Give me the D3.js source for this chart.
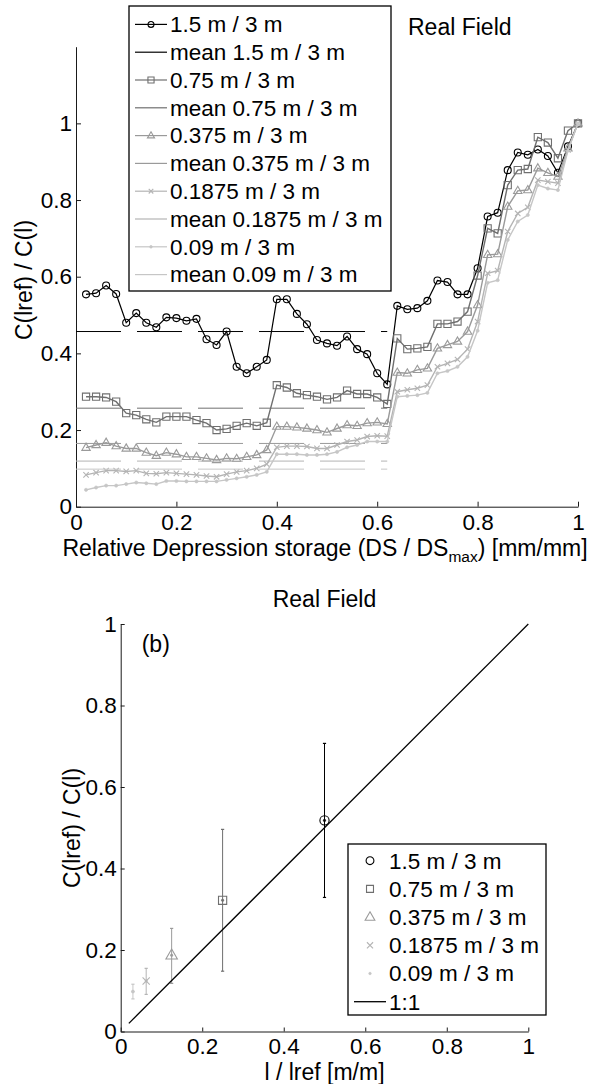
<!DOCTYPE html>
<html>
<head>
<meta charset="utf-8">
<script src="https://cdn.jsdelivr.net/npm/d3@7"></script>
<style>
  body { margin: 0; background: #fff; }
  svg { display: block; font-family: "Liberation Sans", Arial, sans-serif; }
</style>
</head>
<body>
<svg id="chart" width="590" height="1084"></svg>
<script>
// ---- data ----
var ds = [0.02,0.04,0.06,0.08,0.10,0.12,0.14,0.16,0.18,0.20,
          0.22,0.24,0.26,0.28,0.30,0.32,0.34,0.36,0.38,0.40,
          0.42,0.44,0.46,0.48,0.50,0.52,0.54,0.56,0.58,0.60,
          0.62,0.64,0.66,0.68,0.70,0.72,0.74,0.76,0.78,0.80,
          0.82,0.84,0.86,0.88,0.90,0.92,0.94,0.96,0.98,1.00];

var c150 = [0.554,0.557,0.577,0.555,0.480,0.505,0.480,0.468,0.494,0.492,
            0.485,0.490,0.437,0.422,0.457,0.365,0.348,0.365,0.383,0.541,
            0.541,0.503,0.476,0.435,0.426,0.420,0.444,0.411,0.398,0.348,
            0.319,0.524,0.515,0.518,0.537,0.590,0.586,0.554,0.554,0.622,
            0.757,0.767,0.878,0.924,0.918,0.932,0.915,0.871,0.940,1.000];
var c075 = [0.287,0.287,0.285,0.274,0.244,0.239,0.228,0.220,0.235,0.235,
            0.235,0.226,0.218,0.200,0.203,0.211,0.218,0.211,0.219,0.317,
            0.311,0.296,0.291,0.287,0.280,0.285,0.303,0.294,0.294,0.285,
            0.268,0.439,0.411,0.413,0.417,0.477,0.477,0.483,0.509,0.603,
            0.726,0.713,0.839,0.878,0.881,0.964,0.950,0.909,0.981,1.000];
var c0375 = [0.154,0.161,0.167,0.158,0.152,0.152,0.141,0.133,0.141,0.137,
             0.130,0.130,0.126,0.122,0.126,0.125,0.130,0.135,0.148,0.209,
             0.209,0.207,0.204,0.200,0.194,0.204,0.213,0.211,0.218,0.220,
             0.216,0.350,0.348,0.357,0.361,0.413,0.422,0.431,0.457,0.526,
             0.657,0.659,0.783,0.824,0.826,0.883,0.871,0.861,0.935,1.000];
var c01875 = [0.083,0.089,0.094,0.094,0.092,0.094,0.087,0.086,0.089,0.087,
              0.085,0.083,0.080,0.078,0.085,0.091,0.094,0.100,0.111,0.155,
              0.158,0.158,0.157,0.152,0.152,0.161,0.170,0.174,0.183,0.185,
              0.184,0.300,0.305,0.309,0.317,0.365,0.374,0.384,0.411,0.483,
              0.609,0.616,0.718,0.765,0.781,0.852,0.848,0.844,0.931,1.000];
var c009 = [0.044,0.050,0.055,0.055,0.059,0.063,0.061,0.059,0.067,0.067,
            0.066,0.066,0.066,0.066,0.070,0.074,0.078,0.083,0.091,0.137,
            0.137,0.137,0.135,0.135,0.137,0.143,0.155,0.161,0.170,0.170,
            0.170,0.287,0.289,0.291,0.297,0.348,0.354,0.365,0.391,0.459,
            0.584,0.591,0.696,0.744,0.761,0.839,0.830,0.826,0.929,1.000];

var seriesNames = ['1.5 m / 3 m', '0.75 m / 3 m', '0.375 m / 3 m', '0.1875 m / 3 m', '0.09 m / 3 m'];
var meanValues = [0.457, 0.257, 0.165, 0.119, 0.098];
var meanExtent = [0, 0.62];

// panel (b)
var lengthRatio = [0.5, 0.25, 0.125, 0.0625, 0.03];
var meanRatio   = [0.518, 0.322, 0.187, 0.124, 0.098];
var errLow      = [0.329, 0.148, 0.118, 0.091, 0.080];
var errHigh     = [0.707, 0.496, 0.253, 0.155, 0.116];
var oneToOne    = [0.02, 1];

var ticks = [0, 0.2, 0.4, 0.6, 0.8, 1];

var allSeries = [c150, c075, c0375, c01875, c009];
var colors = ['#000000', '#6f6f6f', '#9a9a9a', '#b4b4b4', '#c6c6c6'];
var markers = ['circle', 'square', 'triangle', 'cross', 'dot'];
var FONT = 22.5;      // ticks and legends
var LABEL = 23;       // axis labels and titles

var svg = d3.select('#chart');

function markerPath(type, s) {
  if (type === 'circle' || type === 'dot')
    return 'M' + (-s) + ',0a' + s + ',' + s + ' 0 1,0 ' + (2 * s) + ',0a' + s + ',' + s + ' 0 1,0 ' + (-2 * s) + ',0';
  if (type === 'square') return 'M' + (-s) + ',' + (-s) + 'h' + (2 * s) + 'v' + (2 * s) + 'h' + (-2 * s) + 'Z';
  if (type === 'triangle') return 'M0,' + (-s * 1.2) + 'L' + (s * 1.1) + ',' + (s * 0.7) + 'L' + (-s * 1.1) + ',' + (s * 0.7) + 'Z';
  return 'M' + (-s) + ',' + (-s) + 'L' + s + ',' + s + 'M' + (-s) + ',' + s + 'L' + s + ',' + (-s);
}
// marker radius per type, top panel and panel (b)
var sizeTop = {circle: 3.5, square: 3.6, triangle: 3.8, cross: 2.7, dot: 1.6};
var sizeB = {circle: 4.6, square: 4.1, triangle: 5.2, cross: 3.6, dot: 1.5};

function addMarkers(g, pts, type, s, color) {
  g.selectAll(null).data(pts).join('path')
    .attr('transform', function (d) { return 'translate(' + d[0] + ',' + d[1] + ')'; })
    .attr('d', markerPath(type, s))
    .attr('fill', type === 'dot' ? color : 'none')
    .attr('stroke', color)
    .attr('stroke-width', type === 'dot' ? 0.6 : 1.1);
}

function styleAxis(g) {
  g.attr('font-size', FONT).attr('font-family', '"Liberation Sans", Arial, sans-serif');
  g.selectAll('path, line').attr('stroke', '#1a1a1a');
  g.selectAll('text').attr('fill', '#000');
}

// ================= top panel =================
var x1 = d3.scaleLinear().domain([0, 1]).range([76, 578]);
var y1 = d3.scaleLinear().domain([0, 1.2]).range([506.7, 46.7]);
var fmt = d3.format('~g');

svg.append('g').attr('transform', 'translate(0,' + y1(0) + ')')
  .call(d3.axisBottom(x1).tickValues(ticks).tickSizeInner(-5).tickSizeOuter(0).tickPadding(7).tickFormat(fmt))
  .call(styleAxis);
svg.append('g').attr('transform', 'translate(' + x1(0) + ',0)')
  .call(d3.axisLeft(y1).tickValues(ticks).tickSizeInner(-5).tickSizeOuter(0).tickPadding(4).tickFormat(fmt))
  .call(styleAxis);

var line1 = d3.line().x(function (d) { return x1(d[0]); }).y(function (d) { return y1(d[1]); });
var plot1 = svg.append('g');

allSeries.forEach(function (vals, i) {
  var pts = ds.map(function (x, k) { return [x, vals[k]]; });
  plot1.append('path').attr('d', line1(pts)).attr('fill', 'none')
    .attr('stroke', colors[i]).attr('stroke-width', i === 0 ? 1.2 : 1.4);
  addMarkers(plot1, pts.map(function (p) { return [x1(p[0]), y1(p[1])]; }), markers[i], sizeTop[markers[i]], colors[i]);
  plot1.append('line')
    .attr('x1', x1(meanExtent[0])).attr('x2', x1(meanExtent[1]))
    .attr('y1', y1(meanValues[i])).attr('y2', y1(meanValues[i]))
    .attr('stroke', colors[i]).attr('stroke-width', 1).attr('stroke-dasharray', '45,16');
});

// legend top
var leg1 = svg.append('g');
leg1.append('rect').attr('x', 129).attr('y', 6).attr('width', 262).attr('height', 285)
  .attr('fill', '#fff').attr('stroke', '#000').attr('stroke-width', 1.3);
var legRows = [];
seriesNames.forEach(function (n, i) {
  legRows.push({label: n, color: colors[i], marker: markers[i]});
  legRows.push({label: 'mean ' + n, color: colors[i], marker: null});
});
legRows.forEach(function (r, i) {
  var yy = 24.4 + i * 27.8;
  leg1.append('line').attr('x1', 135).attr('x2', 167).attr('y1', yy).attr('y2', yy)
    .attr('stroke', r.color).attr('stroke-width', 1.2);
  if (r.marker) addMarkers(leg1, [[151, yy]], r.marker, sizeTop[r.marker] * 0.85, r.color);
  leg1.append('text').attr('x', 170).attr('y', yy).attr('dy', '0.35em')
    .attr('font-size', FONT).text(r.label);
});

svg.append('text').attr('x', 408).attr('y', 34.5).attr('font-size', LABEL).text('Real Field');

var xl = svg.append('text').attr('x', 325).attr('y', 555.5).attr('text-anchor', 'middle').attr('font-size', LABEL);
xl.append('tspan').text('Relative Depression storage (DS / DS');
xl.append('tspan').attr('font-size', 15.5).attr('dy', 6).text('max');
xl.append('tspan').attr('dy', -6).text(') [mm/mm]');

svg.append('text').attr('transform', 'translate(31.5,280) rotate(-90)')
  .attr('text-anchor', 'middle').attr('font-size', LABEL).text('C(lref) / C(l)');

// ================= panel (b) =================
var x2 = d3.scaleLinear().domain([0, 1]).range([120.7, 528.3]);
var y2 = d3.scaleLinear().domain([0, 1]).range([1031.5, 624]);

svg.append('g').attr('transform', 'translate(0,' + y2(0) + ')')
  .call(d3.axisBottom(x2).tickValues(ticks).tickSizeInner(-4).tickSizeOuter(0).tickPadding(7).tickFormat(fmt))
  .call(styleAxis);
svg.append('g').attr('transform', 'translate(' + x2(0) + ',0)')
  .call(d3.axisLeft(y2).tickValues(ticks).tickSizeInner(-4).tickSizeOuter(0).tickPadding(4).tickFormat(fmt))
  .call(styleAxis);

var plot2 = svg.append('g');
lengthRatio.forEach(function (lr, i) {
  var cx = x2(lr), c = colors[i];
  plot2.append('line').attr('x1', cx).attr('x2', cx).attr('y1', y2(errLow[i])).attr('y2', y2(errHigh[i]))
    .attr('stroke', c).attr('stroke-width', 1);
  [errLow[i], errHigh[i]].forEach(function (v) {
    plot2.append('line').attr('x1', cx - 1.6).attr('x2', cx + 1.6).attr('y1', y2(v)).attr('y2', y2(v))
      .attr('stroke', c).attr('stroke-width', 1.2);
  });
  addMarkers(plot2, [[cx, y2(meanRatio[i])]], 'dot', 1.2, c);
  addMarkers(plot2, [[cx, y2(meanRatio[i])]], markers[i], sizeB[markers[i]], c);
});
plot2.append('line')
  .attr('x1', x2(oneToOne[0])).attr('y1', y2(oneToOne[0]))
  .attr('x2', x2(oneToOne[1])).attr('y2', y2(oneToOne[1]))
  .attr('stroke', '#000').attr('stroke-width', 1.3);

// legend (b)
var leg2 = svg.append('g');
leg2.append('rect').attr('x', 348).attr('y', 844).attr('width', 198).attr('height', 171)
  .attr('fill', '#fff').attr('stroke', '#000').attr('stroke-width', 1.3);
seriesNames.forEach(function (n, i) {
  var yy = 860.7 + i * 28.2;
  addMarkers(leg2, [[370, yy]], markers[i], sizeB[markers[i]] * 0.85, colors[i]);
  leg2.append('text').attr('x', 389).attr('y', yy).attr('dy', '0.35em').attr('font-size', FONT).text(n);
});
var yOne = 860.7 + 5 * 28.2;
leg2.append('line').attr('x1', 354).attr('x2', 386).attr('y1', yOne).attr('y2', yOne)
  .attr('stroke', '#000').attr('stroke-width', 1.3);
leg2.append('text').attr('x', 389).attr('y', yOne).attr('dy', '0.35em').attr('font-size', FONT).text('1:1');

svg.append('text').attr('x', 324.5).attr('y', 607).attr('text-anchor', 'middle').attr('font-size', LABEL).text('Real Field');
svg.append('text').attr('x', 141.7).attr('y', 652).attr('font-size', LABEL).text('(b)');
svg.append('text').attr('x', 324.5).attr('y', 1080).attr('text-anchor', 'middle').attr('font-size', LABEL).text('l / lref [m/m]');
svg.append('text').attr('transform', 'translate(80,828) rotate(-90)')
  .attr('text-anchor', 'middle').attr('font-size', LABEL).text('C(lref) / C(l)');
</script>
</body>
</html>
